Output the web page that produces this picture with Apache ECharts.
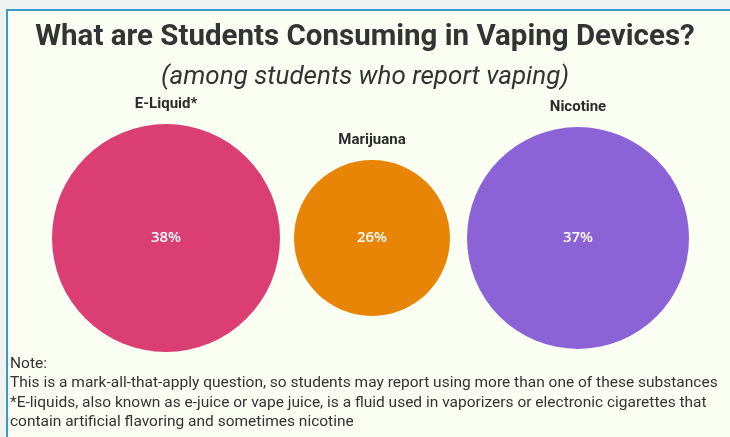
<!DOCTYPE html>
<html lang="en">
<head>
    <meta charset="UTF-8">
    <title>Vaping substances</title>
    <script src="https://cdn.jsdelivr.net/npm/echarts@6/dist/echarts.min.js"></script>
    <style>
        html, body { margin: 0; padding: 0; background: #f1f2f2; }
    </style>
</head>
<body>
<div id="main" style="width:730px;height:437px;"></div>
<script type="text/javascript">
    // data
    var substances = ['E-Liquid*', 'Marijuana', 'Nicotine'];
    var percents = [38, 26, 37];
    var colors = ['#da3e73', '#e88507', '#8b63d7'];
    var noteLines = [
        'Note:',
        'This is a mark-all-that-apply question, so students may report using more than one of these substances',
        '*E-liquids, also known as e-juice or vape juice, is a fluid used in vaporizers or electronic cigarettes that',
        'contain artificial flavoring and sometimes nicotine'
    ];

    var condensed = '"Roboto", sans-serif';
    var myChart = echarts.init(document.getElementById('main'));

    var points = percents.map(function (v, i) {
        return {
            value: [substances[i], 0],
            symbolSize: v * 6,  // radius grows with the value
            itemStyle: { color: colors[i], opacity: 1 }
        };
    });

    var noteText = noteLines.map(function (t, i) {
        return {
            type: 'text',
            left: 10,
            top: 356 + i * 19.5,
            style: { text: t, fill: '#333', font: '15.5px ' + condensed }
        };
    });

    option = {
        backgroundColor: '#f1f2f2',
        title: [{
            text: 'What are Students Consuming in Vaping Devices?',
            left: 'center',
            top: 18,
            textStyle: { fontFamily: condensed, fontWeight: 'bold', fontSize: 29.5, color: '#333' }
        }, {
            text: '(among students who report vaping)',
            left: 'center',
            top: 59,
            textStyle: { fontFamily: condensed, fontStyle: 'italic', fontWeight: 'normal', fontSize: 26, color: '#333' }
        }],
        graphic: [{
            type: 'rect',
            z: -10,
            shape: { x: 7, y: 10, width: 800, height: 500 },
            style: { fill: '#fbfff3', stroke: '#3a9bc6', lineWidth: 2 }
        }].concat(noteText),
        grid: { left: 63, right: 49, top: 138, bottom: 99 },
        xAxis: {
            type: 'category',
            data: substances,
            show: false
        },
        yAxis: {
            type: 'value',
            min: -1,
            max: 1,
            show: false
        },
        series: [{
            type: 'scatter',
            data: points,
            label: {
                show: true,
                position: 'inside',
                color: '#fff',
                fontSize: 15,
                fontWeight: 600,
                fontFamily: '"Open Sans", sans-serif',
                formatter: function (p) { return percents[p.dataIndex] + '%'; }
            },
            emphasis: { disabled: true }
        }, {
            // category names sit above each circle
            type: 'scatter',
            data: points.map(function (p, i) {
                return { value: p.value, symbolSize: p.symbolSize };
            }),
            itemStyle: { color: 'rgba(0,0,0,0)', opacity: 1 },
            label: {
                show: true,
                position: 'top',
                distance: 12,
                color: '#2b2b2b',
                fontSize: 15,
                fontWeight: 'bold',
                fontFamily: condensed,
                formatter: function (p) { return substances[p.dataIndex]; }
            },
            silent: true
        }]
    };

    myChart.setOption(option);
</script>
</body>
</html>
